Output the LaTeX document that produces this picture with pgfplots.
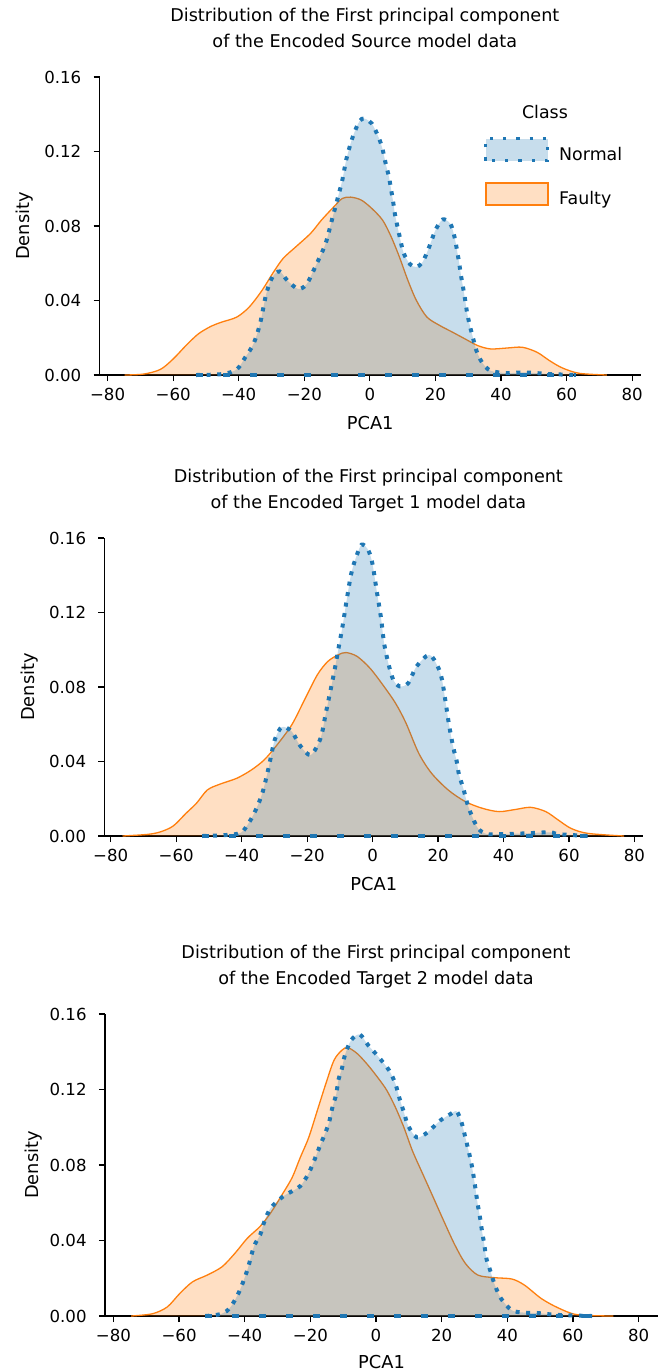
\documentclass[border=0pt]{standalone}
\usepackage{fontspec}
\setmainfont{DejaVu Sans}
\usepackage{pgfplots}
\usepackage{pgfplotstable}
\pgfplotsset{compat=1.18}

\definecolor{c0}{HTML}{1F77B4}
\definecolor{c1}{HTML}{FF7F0E}

% KDE curves (x = PCA1, y = density)
\pgfplotstableread{
x y
-53 0
-45 0.0005
-40.6 0.003
-38 0.0095
-35.5 0.0167
-33.5 0.0275
-31.6 0.0436
-29.7 0.0526
-27.5 0.0556
-25.2 0.0508
-21.9 0.0462
-19.4 0.0485
-17.4 0.0553
-15.5 0.0625
-13.5 0.0706
-11.6 0.0831
-9.7 0.0957
-8.4 0.1047
-7.1 0.1164
-5.2 0.128
-3.2 0.1362
-1.7 0.1377
0.6 0.135
2.8 0.127
3.9 0.121
4.8 0.1137
5.8 0.1065
6.5 0.0993
7.1 0.093
7.7 0.0858
9.0 0.075
10.3 0.0655
12.3 0.0594
14.2 0.058
16.1 0.0607
18.1 0.0688
20.0 0.0778
22.2 0.0835
24.5 0.0813
25.8 0.0742
27.1 0.0616
27.7 0.0544
28.4 0.0472
29.0 0.041
29.7 0.0329
30.6 0.0257
31.4 0.0203
32.5 0.0131
34.2 0.0068
36.8 0.0023
41.9 0.001
46.5 0.0014
51.0 0.001
54.8 0.0005
63 0
}\srcnormal

\pgfplotstableread{
x y
-74.8 0
-69 0.0005
-63.9 0.003
-60 0.0086
-56.1 0.0158
-52.3 0.0221
-48.4 0.0262
-45.2 0.0284
-40.6 0.0311
-36.8 0.0365
-32.9 0.0454
-29.7 0.0544
-26.5 0.0625
-22.6 0.0688
-18.1 0.076
-14.8 0.0831
-11 0.0903
-8.4 0.0948
-5.8 0.0955
-2.6 0.0939
0.6 0.0894
3.9 0.0831
6.5 0.0742
9 0.0634
11.6 0.0508
14.2 0.04
17.4 0.0311
21.3 0.0266
25.2 0.023
29 0.0194
32.9 0.0158
36.8 0.014
41.9 0.0145
46.5 0.0149
51 0.0122
54.8 0.0077
58.7 0.0038
63.9 0.0009
72.3 0
}\srcfaulty

\pgfplotstableread{
x y
-52 0
-45 0.0005
-40.2 0.0018
-37.6 0.0077
-35.7 0.014
-33.7 0.0229
-31.8 0.0364
-29.9 0.0516
-27.7 0.0585
-24.7 0.0561
-22.1 0.0484
-18.9 0.0435
-15.9 0.0525
-14.3 0.0659
-11.8 0.0874
-10.5 0.1
-9.2 0.1125
-7.9 0.1269
-6.6 0.1403
-5.3 0.1484
-3.4 0.1564
-1.4 0.1537
-0.1 0.1466
1.2 0.1322
2.5 0.1179
3.5 0.1036
4.8 0.0928
6.3 0.0839
8.3 0.0803
10.9 0.0821
13.4 0.091
17.3 0.0973
19.9 0.091
21.2 0.0839
22.5 0.0695
23.1 0.0624
23.8 0.0552
24.7 0.0471
25.7 0.04
26.4 0.0328
27.7 0.0256
28.9 0.0176
30.2 0.0113
32.2 0.0041
34.8 0.0011
38.6 0.001
46.4 0.0014
54.2 0.002
56.7 0.001
66 0
}\tonenormal

\pgfplotstableread{
x y
-76.4 0
-68.6 0.0009
-64.7 0.0023
-60.9 0.0054
-57 0.0122
-53.8 0.0176
-50.5 0.0247
-46.7 0.0278
-41.5 0.031
-37 0.0355
-33.1 0.0409
-29.2 0.0489
-24.7 0.0597
-20.8 0.0731
-16.9 0.0865
-13.7 0.0937
-10.5 0.0973
-8.1 0.0985
-4.7 0.0964
-0.8 0.0901
3.1 0.0812
7 0.0713
10.2 0.0606
14.1 0.0444
18 0.0337
23.1 0.0247
28.3 0.0185
33.5 0.0149
38.6 0.0131
43.8 0.0143
48.3 0.0154
52.9 0.0131
56.7 0.0086
60.6 0.0041
65.8 0.0014
76.8 0
}\tonefaulty

\pgfplotstableread{
x y
-52 0
-46.9 0.0012
-44.3 0.0048
-41.7 0.0128
-39.2 0.0244
-37.2 0.0368
-35.3 0.043
-34 0.0501
-32.1 0.0572
-28.5 0.0631
-25.6 0.0661
-23.1 0.0688
-20.7 0.075
-18.9 0.0821
-17.3 0.0892
-15.6 0.0964
-14.3 0.1026
-13.4 0.1097
-12.1 0.1177
-11.5 0.1248
-10.4 0.131
-9.5 0.1381
-7.6 0.1461
-5 0.1492
-2.4 0.1435
0.8 0.1372
4 0.1301
5.9 0.123
7.2 0.115
8.5 0.1079
9.8 0.1008
12.4 0.0946
15.6 0.0972
19.5 0.1035
22.7 0.107
24.6 0.1084
26.2 0.1017
27.2 0.0946
28.2 0.0875
29.1 0.0804
29.8 0.0732
30.4 0.0661
31 0.059
31.7 0.0519
32.3 0.0448
33 0.0377
33.6 0.0306
34.9 0.0235
36.2 0.0164
38.1 0.0092
41.4 0.003
45.2 0.0018
49.1 0.0016
52.9 0.0009
57.5 0.0004
65.8 0
}\ttwonormal

\pgfplotstableread{
x y
-74.6 0
-68.1 0.0012
-63.6 0.0048
-59.8 0.0119
-55.9 0.0181
-51.4 0.0217
-46.9 0.0261
-43 0.0332
-39.2 0.0412
-35.3 0.0475
-32.1 0.0546
-28.9 0.0635
-25.6 0.0732
-23.1 0.0839
-20.5 0.0946
-17.9 0.1088
-15.3 0.123
-12.8 0.1355
-10.4 0.1408
-8.6 0.1422
-5.7 0.139
-2.4 0.1328
0.8 0.1257
3.3 0.1195
5.9 0.1106
8.5 0.0999
11.1 0.0875
14.3 0.075
17.5 0.0626
20.7 0.0501
24 0.0377
27.2 0.0279
31 0.0217
36.2 0.0203
41.4 0.0196
45.2 0.0164
50.4 0.0092
55.5 0.0043
61.3 0.0007
72.3 0
}\ttwofaulty

\pgfplotsset{
  kdeax/.style 2 args={
    scale only axis,
    axis x line*=bottom, axis y line*=left,
    axis line style={-, line width=0.6pt},
    tick align=outside, major tick length=3pt,
    every tick/.style={black, line width=0.6pt},
    ymin=0, ymax=0.16,
    xtick={-80,-60,...,80},
    xticklabels={−80,−60,−40,−20,0,20,40,60,80},
    ytick={0,0.04,0.08,0.12,0.16},
    yticklabels={0.00,0.04,0.08,0.12,0.16},
    tick label style={font=\fontsize{8.3}{10}\selectfont, inner sep=0pt},
    xticklabel style={yshift=-3.5pt},
    yticklabel style={xshift=-6pt},
    clip=false,
    xlabel={PCA1}, ylabel={Density},
    label style={font=\fontsize{8.9}{10}\selectfont},
    xlabel style={at={(axis description cs:0.5,0)}, anchor=north, inner sep=0pt, yshift=#2},
    ylabel style={at={(axis description cs:#1,0.5)}, anchor=center, inner sep=0pt},
    title style={at={(axis description cs:0.49,1)}, anchor=base, yshift=9pt,
      align=center, inner sep=0pt, font=\fontsize{8.8}{13}\selectfont},
  },
  faultyfill/.style={draw=none, fill=c1, fill opacity=0.25, smooth, forget plot},
  faultyline/.style={c1, line width=0.65pt, smooth, forget plot},
  normalfill/.style={draw=none, fill=c0, fill opacity=0.25, smooth, forget plot},
  normalline/.style={c0, line width=2pt, dash pattern=on 2pt off 3.3pt, smooth, forget plot},
  normalbase/.style={c0, line width=1.75pt, dash pattern=on 3.5pt off 10pt, forget plot},
}

\begin{document}
\begin{tikzpicture}
\path[use as bounding box] (0,0) rectangle (330pt,-686pt);

% ---------- Source ----------
\begin{axis}[kdeax={-0.1386}{-20.5pt},
  at={(49.85pt,-187.5pt)}, anchor=south west,
  width=270.5pt, height=149pt, xmin=-82.4, xmax=82.6,
  title={Distribution of the First principal component\\of the Encoded Source model data},
  legend cell align=left,
  legend style={draw=none, fill=none, at={(axis description cs:0.7104,0.7987)}, anchor=north west,
    inner sep=0pt, outer sep=0pt, row sep=9pt, nodes={inner sep=0pt},
    font=\fontsize{8.7}{10}\selectfont,
    /tikz/every odd column/.append style={column sep=5pt}},
]
\addplot[faultyfill] table {\srcfaulty} \closedcycle;
\addplot[faultyline] table {\srcfaulty};
\addplot[normalfill] table {\srcnormal} \closedcycle;
\addplot[normalline] table {\srcnormal};
\addplot[normalbase] coordinates {(-53,0) (63,0)};
\addlegendimage{legend image code/.code={\draw[fill=c0, fill opacity=0.25, draw=c0, line width=1.6pt, dash pattern=on 1.6pt off 5pt] (0pt,-2.5pt) rectangle (31pt,8.5pt);}}
\addlegendentry{Normal}
\addlegendimage{legend image code/.code={\draw[fill=c1, fill opacity=0.25, draw=c1, line width=1.1pt] (0pt,-2.5pt) rectangle (31pt,8.5pt);}}
\addlegendentry{Faulty}
\node[font=\fontsize{8.7}{10}\selectfont, anchor=center] at (axis description cs:0.823,0.8826) {Class};
\end{axis}

% ---------- Target 1 ----------
\begin{axis}[kdeax={-0.1393}{-20.5pt},
  at={(52.25pt,-418pt)}, anchor=south west,
  width=269.25pt, height=149pt, xmin=-81.9, xmax=82.6,
  title={Distribution of the First principal component\\of the Encoded Target 1 model data},
]
\addplot[faultyfill] table {\tonefaulty} \closedcycle;
\addplot[faultyline] table {\tonefaulty};
\addplot[normalfill] table {\tonenormal} \closedcycle;
\addplot[normalline] table {\tonenormal};
\addplot[normalbase] coordinates {(-52,0) (66,0)};
\end{axis}

% ---------- Target 2 ----------
\begin{axis}[kdeax={-0.130}{-19.5pt},
  at={(52.5pt,-658pt)}, anchor=south west,
  width=276.5pt, height=151pt, xmin=-82.56, xmax=85.9,
  title={Distribution of the First principal component\\of the Encoded Target 2 model data},
]
\addplot[faultyfill] table {\ttwofaulty} \closedcycle;
\addplot[faultyline] table {\ttwofaulty};
\addplot[normalfill] table {\ttwonormal} \closedcycle;
\addplot[normalline] table {\ttwonormal};
\addplot[normalbase] coordinates {(-52,0) (66,0)};
\end{axis}
\end{tikzpicture}
\end{document}
